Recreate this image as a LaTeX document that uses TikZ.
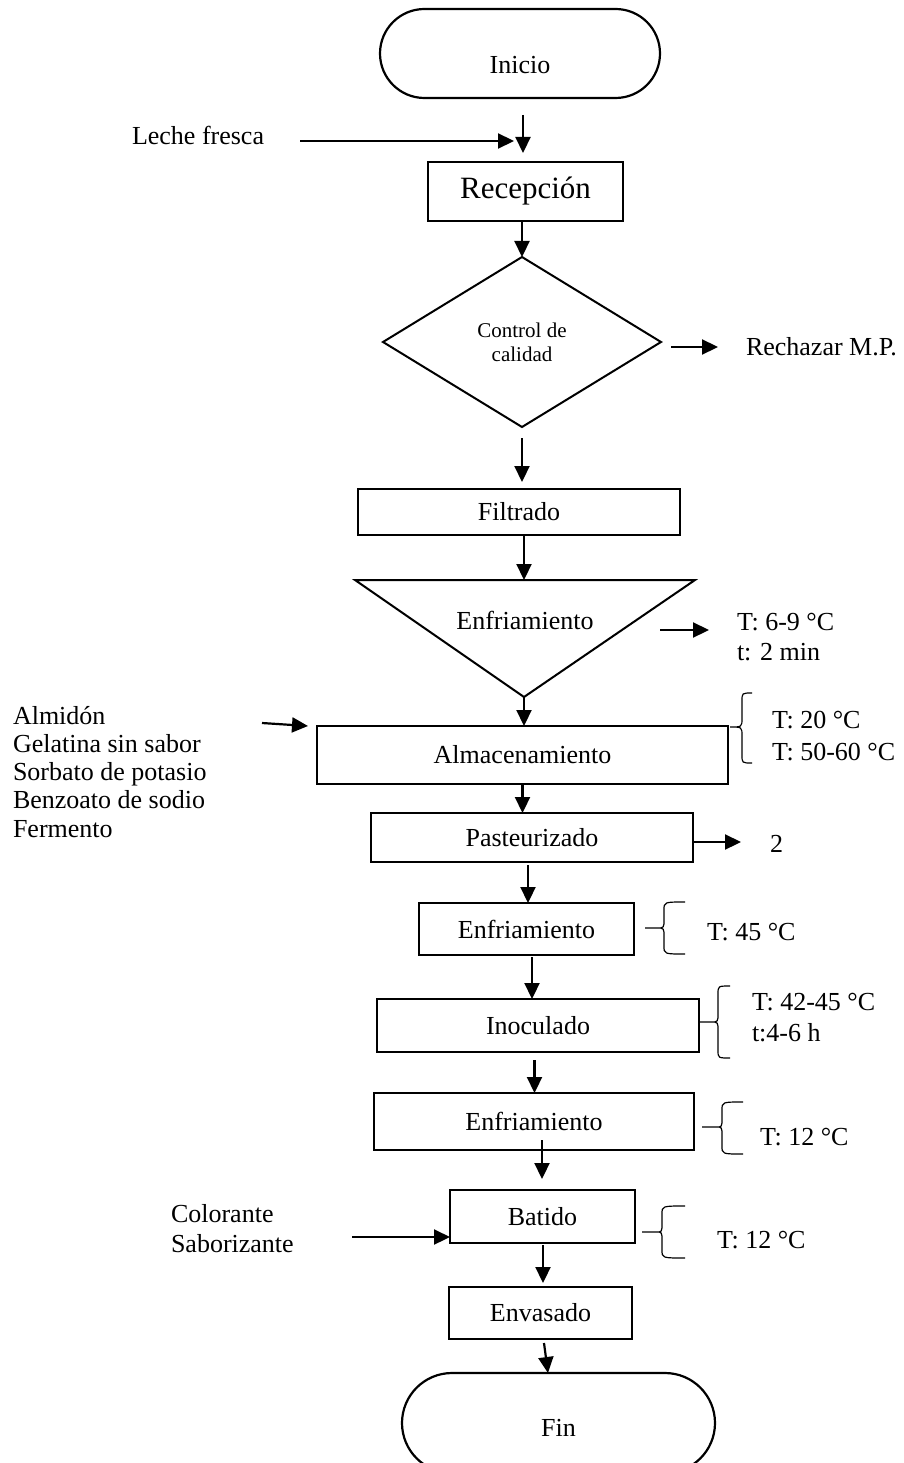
\documentclass[tikz,border=0pt]{standalone}
\usepackage{fontspec}
\setmainfont{Liberation Serif}
\usetikzlibrary{shapes.geometric,shapes.misc,arrows.meta}
\newcommand\mybrace[7]{%
  \draw[brc] (#1,#5) -- (#2,#5) .. controls (#3,#5) .. (#3,#5-9) -- (#3,#4+8) .. controls (#3,#4) .. (#7,#4)
             (#2,#5) .. controls (#3,#5) .. (#3,#5+9) -- (#3,#6-8) .. controls (#3,#6) .. (#7,#6);}
\begin{document}
\begin{tikzpicture}[x=1pt,y=-1pt,
  every node/.style={inner sep=0pt, outer sep=0pt},
  txt/.style={font=\fontsize{26}{30}\selectfont},
  box/.style={draw, line width=2.5pt, rectangle, txt},
  term/.style={draw, line width=2.2pt, rounded rectangle, txt},
  arr/.style={line width=2.2pt, -{Triangle[length=16pt,width=15pt]}},
  brc/.style={line width=1.2pt},
  lab/.style={txt, anchor=base west}]
\useasboundingbox (0,0) rectangle (903,1463);
\clip (0,0) rectangle (903,1463);

% terminals
\node[term, minimum width=280, minimum height=89, label={[txt,yshift=-12pt]center:Inicio}] (ini) at (520,53.5) {};
\node[term, minimum width=313, minimum height=100, label={[txt,yshift=-5pt]center:Fin}] (fin) at (558.5,1423) {};

% process boxes
\node[box, font=\fontsize{31}{36}\selectfont, minimum width=195, minimum height=59] (rec) at (525.5,191.5) {Recepción};
\node[draw, diamond, line width=2pt, minimum width=278, minimum height=170, align=center,
      font=\fontsize{21}{24}\selectfont] (dia) at (522,342) {Control de\\calidad};
\node[box, minimum width=322, minimum height=46] (filt) at (519,512) {Filtrado};
\coordinate (t1) at (355,580);
\coordinate (ttop) at (524,580);
\coordinate (t2) at (695,580);
\coordinate (t3) at (524,697);
\draw[line width=2pt] (t1) -- (t2) -- (t3) -- cycle;
\node[txt] (enfa) at (525,620) {Enfriamiento};
\node[box, minimum width=411, minimum height=58] (alm) at (522.5,755) {Almacenamiento};
\node[box, minimum width=322, minimum height=49] (past) at (532,837.5) {Pasteurizado};
\node[box, minimum width=215, minimum height=52] (enfb) at (526.5,929) {Enfriamiento};
\node[box, minimum width=322, minimum height=53] (inoc) at (538,1025.5) {Inoculado};
\node[box, minimum width=320, minimum height=57] (enfc) at (534,1121.5) {Enfriamiento};
\node[box, minimum width=185, minimum height=53] (bat) at (542.5,1216.5) {Batido};
\node[box, minimum width=183, minimum height=52] (env) at (540.5,1313) {Envasado};

% side labels
\node[lab] (leche) at (132,145) {Leche fresca};
\node[lab] (rech) at (746,355) {Rechazar M.P.};
\node[lab] (ta1) at (737,630) {T: 6-9 °C};
\node[lab] (ta2) at (737,660) {t: 2 min};
\node[lab] (tb1) at (772,728) {T: 20 °C};
\node[lab] (tb2) at (772,760) {T: 50-60 °C};
\node[lab] (i1) at (13,724) {Almidón};
\node[lab] (i2) at (13,752) {Gelatina sin sabor};
\node[lab] (i3) at (13,780.5) {Sorbato de potasio};
\node[lab] (i4) at (13,808.7) {Benzoato de sodio};
\node[lab] (i5) at (13,837) {Fermento};
\node[lab] (two) at (770,852) {2};
\node[lab] (tc) at (707,940) {T: 45 °C};
\node[lab] (td1) at (752,1010) {T: 42-45 °C};
\node[lab] (td2) at (752,1041) {t:4-6 h};
\node[lab] (te) at (760,1145) {T: 12 °C};
\node[lab] (c1) at (171,1222) {Colorante};
\node[lab] (c2) at (171,1252) {Saborizante};
\node[lab] (tf) at (717,1248) {T: 12 °C};

% connector ends
\coordinate (a1s) at (523,115);   \coordinate (a1e) at (523,153);
\coordinate (lfs) at (300,141);   \coordinate (lfe) at (514,141);
\coordinate (rjs) at (671,347);   \coordinate (rje) at (718,347);
\coordinate (dfs) at (522,438);   \coordinate (dfe) at (522,482);
\coordinate (tas) at (660,630);   \coordinate (tae) at (709,630);
\coordinate (ins) at (262,723);   \coordinate (ine) at (308,726);
\coordinate (p2s) at (693,842);   \coordinate (p2e) at (741,842);
\coordinate (pes) at (528,865);
\coordinate (ees) at (532,957);
\coordinate (ies) at (534.5,1060);
\coordinate (ecs) at (542,1140);  \coordinate (ece) at (542,1179);
\coordinate (cls) at (352,1237);
\coordinate (bes) at (543,1245);  \coordinate (bee) at (543,1283);
\coordinate (efs) at (544,1343);  \coordinate (efe) at (548,1373);

% connectors
\draw[arr] (a1s) -- (a1e);
\draw[arr] (lfs) -- (lfe);
\draw[arr] (dia.north |- rec.south) -- (dia.north);
\draw[arr] (rjs) -- (rje);
\draw[arr] (dfs) -- (dfe);
\draw[arr] (filt.south -| ttop) -- (ttop);
\draw[arr] (tas) -- (tae);
\draw[arr] (t3) -- (t3 |- alm.north);
\draw[arr] (ins) -- (ine);
\draw[arr] (alm.south) -- (alm.south |- past.north);
\draw[arr] (p2s) -- (p2e);
\draw[arr] (pes) -- (pes |- enfb.north);
\draw[arr] (ees) -- (ees |- inoc.north);
\draw[arr] (ies) -- (ies |- enfc.north);
\draw[arr] (ecs) -- (ece);
\draw[arr] (cls) -- (cls -| bat.west);
\draw[arr] (bes) -- (bee);
\draw[arr] (efs) -- (efe);

% braces
\mybrace{730}{730}{742}{693}{727}{763}{752}
\mybrace{645}{657}{664}{902}{928}{954}{685}
\mybrace{700}{711}{718}{986}{1022}{1058}{730}
\mybrace{702}{716}{722}{1102}{1127}{1154}{743}
\mybrace{642}{656}{662}{1206}{1232}{1258}{685}
\end{tikzpicture}
\end{document}
